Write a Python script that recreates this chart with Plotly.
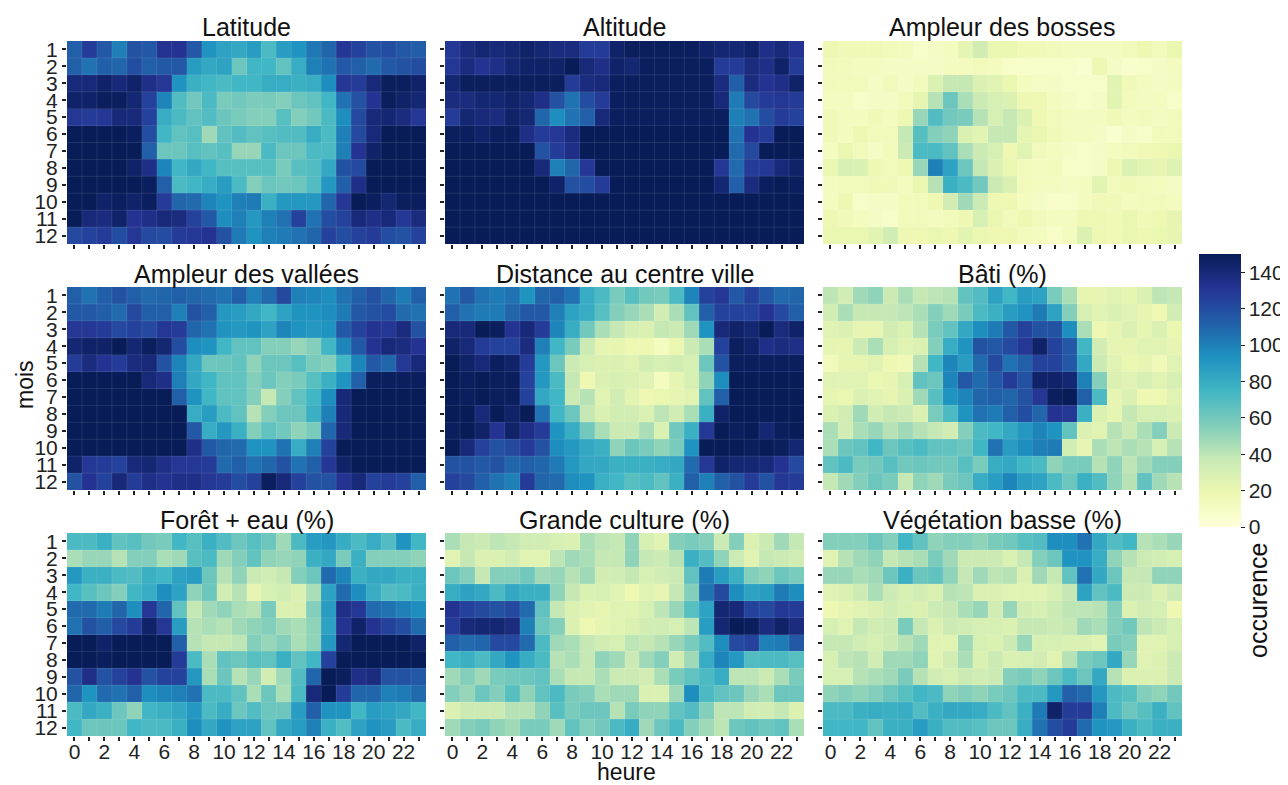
import plotly.graph_objects as go

hours = list(range(24))
months = list(range(1, 13))
titles = ["Latitude", "Altitude", "Ampleur des bosses",
          "Ampleur des vallées", "Distance au centre ville", "Bâti (%)",
          "Forêt + eau (%)", "Grande culture (%)", "Végétation basse (%)"]

latitude = [
    [112,128,115,100,118,115,132,132,115,92,85,82,88,72,88,92,103,110,130,125,118,120,115,113],
    [112,105,112,110,120,112,115,115,88,82,85,62,75,75,65,80,100,105,115,112,108,115,118,120],
    [140,140,145,140,145,135,130,92,78,75,72,75,75,80,80,78,80,95,130,128,140,148,148,145],
    [145,145,148,148,142,125,98,70,60,72,58,60,57,58,55,62,65,75,105,118,132,148,145,142],
    [130,128,130,140,140,125,80,72,65,70,62,58,55,55,68,55,60,72,95,122,140,142,138,130],
    [150,150,150,150,148,120,75,65,68,48,65,70,65,68,70,70,80,72,100,122,140,150,150,150],
    [150,150,150,150,150,112,62,62,68,65,68,50,50,72,62,62,72,72,100,132,145,150,150,150],
    [150,150,150,150,145,135,98,75,82,75,68,68,68,68,58,68,70,82,118,122,150,150,150,150],
    [150,150,150,150,150,148,112,72,75,80,88,72,55,62,60,62,70,90,112,135,150,150,150,150],
    [150,150,145,148,145,148,128,110,108,98,92,100,102,78,90,90,90,110,130,152,148,142,148,148],
    [150,140,138,145,132,135,140,138,125,115,95,100,90,100,105,125,105,120,125,140,135,140,130,138],
    [122,125,128,120,130,122,120,128,130,132,118,102,92,100,102,105,110,125,120,125,128,120,118,125],
]

altitude = [
    [130,138,142,140,142,145,142,138,138,128,128,145,148,148,148,148,148,145,142,142,145,135,140,132],
    [130,138,132,135,142,145,146,145,150,140,135,145,142,148,148,148,148,148,128,128,138,135,145,128],
    [142,148,148,148,148,148,148,148,128,138,140,148,148,148,148,148,148,148,138,112,138,132,135,145],
    [138,138,142,142,145,142,135,118,105,120,128,148,148,148,148,148,148,148,140,102,122,128,130,128],
    [128,142,140,138,145,142,110,95,105,112,140,148,148,148,148,148,148,148,148,100,105,120,128,125],
    [148,148,145,148,148,135,128,130,138,150,150,150,150,150,150,150,150,150,150,105,132,128,150,150],
    [150,150,150,150,150,150,118,128,135,150,150,150,150,150,150,150,150,150,150,108,122,150,150,150],
    [150,150,150,150,150,150,140,100,110,130,150,150,150,150,150,150,150,150,130,108,128,130,140,145],
    [150,150,150,150,150,150,150,145,118,120,128,150,150,150,150,150,150,150,142,112,138,148,150,148],
    [150,150,150,150,150,150,150,150,150,150,150,150,150,150,150,150,150,150,150,150,150,150,150,150],
    [150,150,150,150,150,150,150,150,150,150,150,150,150,150,150,150,150,150,150,150,150,150,150,150],
    [150,150,150,150,150,150,150,150,150,150,150,150,150,150,150,150,150,150,150,150,150,150,150,150],
]

bosses = [
    [18,15,15,15,14,12,8,10,12,22,32,20,20,15,15,14,12,12,12,12,14,18,14,20],
    [14,14,12,12,10,10,10,10,12,12,14,12,8,6,8,8,8,5,18,10,6,8,10,12],
    [14,14,14,10,14,10,14,28,38,38,28,25,20,12,10,10,8,8,8,24,15,12,10,12],
    [12,12,8,10,10,14,22,42,62,45,35,30,28,18,18,12,10,8,10,24,14,12,12,8],
    [15,12,12,15,12,18,50,70,60,58,42,30,38,28,18,14,12,12,12,15,12,14,12,14],
    [15,12,18,14,14,38,68,55,52,28,24,38,38,22,20,15,12,12,10,5,10,8,14,14],
    [12,20,14,10,14,35,72,72,65,45,35,30,18,25,14,12,10,8,10,12,14,15,18,20],
    [20,30,28,18,14,18,50,100,85,62,38,28,20,14,12,14,8,8,10,18,28,24,22,26],
    [12,14,14,15,15,12,20,42,78,72,60,35,28,14,12,12,10,12,24,14,15,14,12,10],
    [12,18,8,10,10,14,14,18,32,48,35,18,18,12,10,8,8,12,15,15,12,14,14,12],
    [18,15,12,10,8,14,14,12,14,18,30,20,14,18,14,12,12,18,18,15,20,15,18,22],
    [20,20,20,24,32,18,18,20,18,24,20,18,18,14,12,8,12,28,18,15,20,18,20,22],
]

vallees = [
    [112,105,112,118,112,108,110,112,110,108,105,112,100,108,122,100,98,95,105,112,118,110,102,112],
    [115,115,112,108,122,112,112,100,118,112,90,88,82,75,85,92,92,95,102,115,118,120,108,105],
    [130,130,128,122,125,122,130,128,110,105,92,90,92,85,98,92,90,92,115,125,132,130,138,118],
    [142,145,145,150,142,148,142,120,95,92,75,65,65,55,55,50,55,75,98,115,132,140,138,132],
    [128,138,132,128,138,140,118,98,82,62,62,65,52,62,62,68,58,55,75,98,115,110,130,140],
    [150,150,150,150,150,140,135,100,82,75,65,65,55,62,55,58,68,78,92,112,148,148,148,148],
    [150,150,150,150,150,150,150,112,92,75,65,65,55,38,55,65,75,95,140,150,150,150,150,150],
    [150,150,150,150,150,150,150,150,80,88,72,65,42,55,62,62,78,100,140,150,150,150,150,150],
    [150,150,150,150,150,150,150,150,115,80,90,78,55,65,60,52,58,110,140,150,150,150,150,150],
    [150,150,150,150,150,150,150,150,135,115,110,108,92,92,105,80,100,125,150,150,150,150,150,150],
    [145,130,128,125,140,142,135,130,130,128,108,112,105,110,118,105,112,130,145,150,150,150,150,150],
    [118,132,125,140,128,135,132,135,135,130,128,120,125,148,140,125,118,118,132,140,125,128,125,112],
]

distance = [
    [105,115,105,102,105,92,110,112,105,80,72,58,68,60,58,72,98,125,130,115,125,115,108,110],
    [112,105,102,102,110,115,115,100,85,80,68,55,50,45,32,45,65,112,125,125,125,132,122,112],
    [140,140,150,148,132,140,128,98,80,60,45,38,30,28,38,35,48,92,140,145,142,150,138,145],
    [145,140,128,125,125,138,100,75,58,35,22,22,18,18,12,20,35,45,125,148,145,135,138,135],
    [150,145,140,148,145,128,90,62,35,30,28,28,25,32,30,32,30,62,118,148,148,148,148,148],
    [150,148,150,148,148,125,90,72,38,18,28,30,28,25,12,22,30,52,95,150,150,150,150,150],
    [150,148,150,148,148,125,82,75,35,42,25,32,24,18,20,22,25,65,112,150,150,150,150,150],
    [150,150,140,150,145,150,105,75,62,38,28,32,32,28,40,32,45,78,145,150,150,150,150,150],
    [148,150,145,132,145,135,128,92,80,60,45,35,35,45,28,60,78,130,150,148,150,142,148,150],
    [150,140,125,118,122,128,118,95,90,82,78,52,62,58,52,58,92,150,150,150,148,150,148,142],
    [118,118,115,118,110,112,110,102,90,82,82,78,78,78,80,82,108,130,145,142,142,140,132,122],
    [125,122,112,105,100,128,110,108,95,92,78,75,68,72,65,78,112,100,112,118,128,118,130,128],
]

bati = [
    [40,32,48,52,35,45,38,40,42,65,70,85,75,88,85,58,45,22,22,25,22,28,40,38],
    [32,45,38,38,38,40,45,55,48,58,72,78,88,92,102,85,55,30,25,28,25,22,18,32],
    [25,28,22,22,32,28,42,58,65,82,95,102,115,125,118,118,95,45,18,22,28,22,28,20],
    [22,22,35,45,30,25,28,55,80,92,118,115,122,130,145,125,115,75,32,22,22,25,25,22],
    [14,22,22,25,18,15,42,75,98,88,108,122,105,112,125,125,115,82,35,25,20,22,15,25],
    [25,25,25,20,22,30,65,62,98,115,108,115,128,118,145,145,142,100,55,28,25,30,25,30],
    [22,20,28,25,22,28,48,68,92,98,110,112,110,118,130,148,152,112,72,22,28,18,18,25],
    [28,32,48,32,38,35,28,58,72,92,105,102,112,120,110,132,130,78,28,22,38,30,30,28],
    [45,32,45,50,42,48,42,38,32,55,72,75,82,90,98,92,65,28,25,42,35,45,55,35],
    [45,62,65,75,62,68,72,65,65,62,75,105,88,95,100,102,32,22,45,40,45,42,30,42],
    [65,72,58,60,68,60,62,60,60,68,58,80,82,75,72,52,58,58,42,52,40,48,55,55],
    [38,48,55,62,58,38,52,48,58,62,80,88,98,88,85,72,62,78,70,52,42,65,48,42],
]

foret = [
    [72,72,78,65,68,60,58,75,68,78,70,62,68,62,48,72,88,90,80,72,80,70,92,75],
    [45,50,50,42,55,55,45,48,68,72,48,55,65,52,50,52,78,82,58,78,55,55,55,52],
    [90,78,78,72,70,78,75,85,88,62,42,52,35,32,38,55,62,108,98,78,82,82,78,78],
    [75,68,62,55,75,80,95,85,52,62,32,42,22,30,32,28,45,85,108,95,80,70,72,78],
    [108,108,102,110,95,130,110,65,38,48,52,45,42,58,28,28,55,88,135,130,108,105,100,95],
    [105,118,112,122,128,145,130,88,42,45,42,48,52,55,48,45,52,85,132,145,132,125,120,108],
    [150,150,145,150,150,150,150,112,42,38,38,40,55,50,55,45,52,90,142,150,150,150,150,145],
    [150,150,148,150,150,150,150,128,72,45,65,62,68,65,78,65,75,125,150,150,150,150,150,150],
    [118,135,118,125,132,118,125,125,90,45,62,42,50,32,48,70,110,150,148,135,138,118,118,115],
    [110,92,108,105,112,95,98,100,105,72,72,65,45,62,45,72,140,150,128,110,110,100,102,108],
    [72,82,78,62,52,75,78,82,90,72,80,62,70,62,62,88,112,92,92,75,88,85,82,75],
    [75,62,62,62,75,72,72,78,95,82,92,85,85,65,82,88,100,78,70,85,92,88,72,80],
]

culture = [
    [45,38,35,40,38,32,32,30,28,45,40,38,52,30,25,55,58,55,35,55,28,35,48,38],
    [25,38,28,28,32,25,25,40,48,45,38,38,52,38,35,42,78,70,52,35,25,38,35,32],
    [62,55,38,55,55,60,48,50,42,48,32,32,38,30,32,35,65,102,88,78,55,52,62,58],
    [80,85,82,72,82,78,78,52,38,28,30,25,18,25,22,38,55,105,122,95,85,88,102,95],
    [132,125,122,118,122,108,65,38,28,25,22,25,25,30,40,50,68,85,142,140,125,122,130,128],
    [128,140,142,142,138,100,62,55,28,18,22,25,28,32,32,30,40,88,142,150,148,138,145,138],
    [112,108,110,122,122,108,72,48,45,38,32,30,40,38,42,50,58,70,95,122,125,100,102,115],
    [75,78,72,82,92,80,72,42,45,38,52,48,35,48,55,32,48,80,98,90,70,72,72,68],
    [48,55,48,58,60,62,65,45,38,38,45,35,35,32,45,58,65,72,80,40,40,35,45,58],
    [55,50,62,55,68,52,65,72,58,55,45,48,48,28,28,48,95,72,65,62,50,45,62,62],
    [28,35,35,35,42,42,52,68,58,62,62,42,58,52,52,65,70,55,40,40,32,32,38,28],
    [48,55,58,52,48,58,58,48,65,55,60,72,80,48,62,72,55,48,40,62,65,62,65,45],
]

vegetation = [
    [55,55,55,62,55,75,65,52,55,55,52,58,60,68,70,95,95,105,82,70,75,42,45,50],
    [25,42,48,52,38,42,45,58,48,35,35,35,28,38,55,62,92,92,80,52,42,35,32,30],
    [50,50,45,48,62,78,62,65,52,38,48,40,42,28,48,38,65,105,82,62,38,38,52,52],
    [25,28,35,45,35,30,32,28,42,40,28,28,25,25,25,30,38,85,65,72,35,35,28,35],
    [18,22,25,28,32,30,28,35,38,45,50,32,50,32,30,35,40,40,42,55,28,32,30,18],
    [30,25,38,32,35,58,38,28,35,32,30,30,28,38,38,35,38,48,45,55,60,40,35,30],
    [38,38,32,30,35,42,48,25,25,48,30,28,35,50,30,30,28,28,25,58,55,25,25,30],
    [30,40,42,32,48,48,52,25,32,45,28,35,28,30,32,25,42,58,62,82,50,25,28,35],
    [30,30,42,45,48,58,42,32,30,35,32,35,55,58,52,62,72,62,82,42,28,28,28,35],
    [52,55,52,55,62,68,75,72,52,55,52,58,62,72,72,90,112,108,90,72,68,55,52,60],
    [72,72,78,80,78,80,70,78,82,82,80,72,65,78,102,145,128,128,100,72,62,68,78,65],
    [75,75,75,65,78,78,88,78,70,70,68,62,62,80,105,120,128,108,92,90,78,72,78,78],
]

panels = [latitude, altitude, bosses, vallees, distance, bati, foret, culture, vegetation]

colorscale = [
    [0.0, "#ffffd9"], [0.125, "#edf8b1"], [0.25, "#c7e9b4"], [0.375, "#7fcdbb"],
    [0.5, "#41b6c4"], [0.625, "#1d91c0"], [0.75, "#225ea8"], [0.875, "#253494"],
    [1.0, "#081d58"],
]

# The page body has an 8 px margin: the figure is drawn 8 px right and down.
OFF = 8
W, H = 1288 - OFF, 785 - OFF


def px(xp):
    return (xp - OFF) / W


def py(yp):
    return 1 - (yp - OFF) / H


col_x = [(67, 426), (445, 804), (823, 1182)]
row_y = [(41, 244), (287, 490), (533, 736)]
FONT = "Liberation Sans, Arial, sans-serif"
TICK = dict(size=21, color="#222", family=FONT)
CELL_LINE = "rgba(255,255,255,0.10)"

fig = go.Figure()
annotations = []
shapes = []
for i, (z, title) in enumerate(zip(panels, titles)):
    r, c = divmod(i, 3)
    n = i + 1
    xa = "x" if n == 1 else f"x{n}"
    ya = "y" if n == 1 else f"y{n}"
    fig.add_trace(go.Heatmap(
        z=z, x=hours, y=months, coloraxis="coloraxis",
        xaxis=xa, yaxis=ya, hovertemplate="heure %{x}<br>mois %{y}<br>%{z}<extra></extra>",
    ))
    # faint cell borders, as in the reference rendering
    for h in hours[1:]:
        shapes.append(dict(type="line", xref=xa, yref=f"{ya} domain",
                           x0=h - 0.5, x1=h - 0.5, y0=0, y1=1,
                           line=dict(color=CELL_LINE, width=1), layer="above"))
    for m in months[1:]:
        shapes.append(dict(type="line", xref=f"{xa} domain", yref=ya,
                           x0=0, x1=1, y0=m - 0.5, y1=m - 0.5,
                           line=dict(color=CELL_LINE, width=1), layer="above"))
    x0, x1 = col_x[c]
    y0, y1 = row_y[r]
    xkey = "xaxis" if n == 1 else f"xaxis{n}"
    ykey = "yaxis" if n == 1 else f"yaxis{n}"
    fig.layout[xkey] = dict(
        domain=[px(x0), px(x1)], anchor=ya, range=[-0.5, 23.5],
        tickvals=hours,
        ticktext=[str(h) if (h % 2 == 0 and r == 2) else "" for h in hours],
        ticks="outside", ticklen=4, tickwidth=1.5, tickcolor="#222",
        ticklabelstandoff=-7,
        showgrid=False, zeroline=False, showline=False, automargin=False,
        tickfont=TICK,
    )
    fig.layout[ykey] = dict(
        domain=[py(y1), py(y0)], anchor=xa, range=[12.5, 0.5],
        tickvals=months,
        ticktext=[str(m) if c == 0 else "" for m in months],
        ticks="outside", ticklen=4, tickwidth=1.5, tickcolor="#222",
        showgrid=False, zeroline=False, showline=False, automargin=False,
        tickfont=TICK,
    )
    annotations.append(dict(
        text=title, x=px((x0 + x1) / 2), y=py(y0 - 13.5),
        xref="paper", yref="paper", xanchor="center", yanchor="middle",
        showarrow=False, font=dict(size=25, color="#111", family=FONT),
    ))

annotations.append(dict(text="mois", x=px(25), y=py(385), xref="paper", yref="paper",
                        xanchor="center", yanchor="middle",
                        textangle=-90, showarrow=False,
                        font=dict(size=23, color="#111", family=FONT)))
annotations.append(dict(text="heure", x=px(626), y=py(772), xref="paper", yref="paper",
                        xanchor="center", yanchor="middle",
                        showarrow=False, font=dict(size=23, color="#111", family=FONT)))
annotations.append(dict(text="occurence", x=px(1258), y=py(601), xref="paper", yref="paper",
                        xanchor="center", yanchor="middle",
                        textangle=-90, showarrow=False,
                        font=dict(size=25, color="#111", family=FONT)))

fig.update_layout(
    width=W, height=H,
    margin=dict(l=0, r=0, t=0, b=0, autoexpand=False),
    paper_bgcolor="white", plot_bgcolor="white",
    annotations=annotations,
    shapes=shapes,
    coloraxis=dict(
        colorscale=colorscale, cmin=0, cmax=150,
        colorbar=dict(
            x=px(1199), xanchor="left", y=py(390.5), yanchor="middle",
            thickness=42, thicknessmode="pixels", len=273, lenmode="pixels",
            xpad=0, ypad=0, outlinewidth=0,
            tickvals=[0, 20, 40, 60, 80, 100, 120, 140],
            ticks="outside", ticklen=4, tickcolor="#222",
            tickfont=TICK,
        ),
    ),
    font=dict(family=FONT),
)

fig.write_html("out.html")
